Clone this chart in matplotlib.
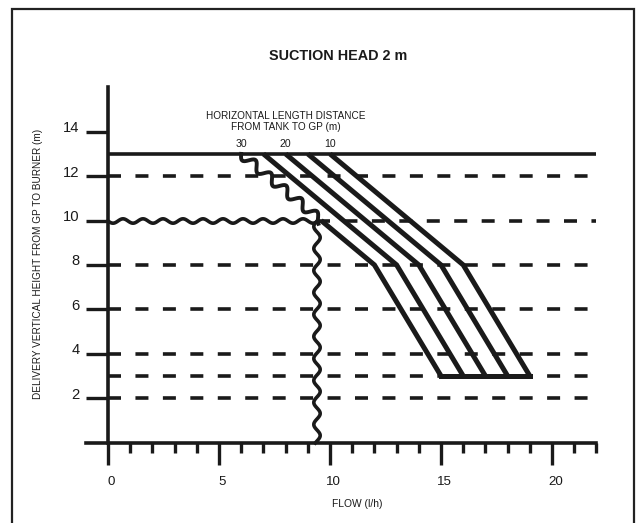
import numpy as np
import matplotlib
matplotlib.use("Agg")
import matplotlib.pyplot as plt
from matplotlib.patches import Rectangle
from matplotlib.transforms import ScaledTranslation
from matplotlib.ticker import FixedLocator

# ---------------- data ----------------
lengths = [10, 15, 20, 25, 30]            # horizontal length tank -> GP (m)
labelled_lengths = [30, 20, 10]
flow_at_top = [10, 9, 8, 7, 6]            # flow (l/h) at height 13 m
flow_at_knee = [16, 15, 14, 13, 12]       # flow (l/h) at height 8 m
flow_at_bottom = [19, 18, 17, 16, 15]     # flow (l/h) at height 3 m
height_top = 13
height_knee = 8
height_bottom = 3
limit_height = 10                          # wavy limit (horizontal)
limit_flow = 9.4                           # wavy limit (vertical)
dashed_heights = [12, 8, 6, 4, 3, 2]
x_major = [0, 5, 10, 15, 20]
x_minor = [1, 2, 3, 4, 6, 7, 8, 9, 11, 12, 13, 14, 16, 17, 18, 19, 21, 22]
y_ticks = [2, 4, 6, 8, 10, 12, 14]
x_axis_left, x_max = -1, 22
y_axis_top = 16

title = "SUCTION HEAD 2 m"
xlabel = "FLOW (l/h)"
ylabel = "DELIVERY VERTICAL HEIGHT FROM GP TO BURNER (m)"
legend_title = "HORIZONTAL LENGTH DISTANCE\nFROM TANK TO GP (m)"

# ---------------- style / layout ----------------
INK = "#1a1a1a"
FONT = ["Liberation Sans", "DejaVu Sans"]
W, H, DPI = 641, 523, 100
PX = 22.2                 # pixels per data unit
X0, Y0 = 108, 442.5       # pixel position of data origin (from top-left)
xlim = (-1.5, 23.5)
ylim = (-1.2, 17.0)

fig = plt.figure(figsize=(W / DPI, H / DPI), dpi=DPI)
left = X0 + xlim[0] * PX
right = X0 + xlim[1] * PX
top = Y0 - ylim[1] * PX
bottom = Y0 - ylim[0] * PX
ax = fig.add_axes([left / W, 1 - bottom / H, (right - left) / W, (bottom - top) / H])
ax.set_xlim(*xlim)
ax.set_ylim(*ylim)
ax.patch.set_visible(False)

# spines as axes lines
for s in ("top", "right"):
    ax.spines[s].set_visible(False)
ax.spines["left"].set_position(("data", 0))
ax.spines["bottom"].set_position(("data", 0))
ax.spines["left"].set_bounds(0, y_axis_top)
ax.spines["bottom"].set_bounds(x_axis_left, x_max)
for s in ("left", "bottom"):
    ax.spines[s].set_linewidth(2.6)
    ax.spines[s].set_color(INK)

ax.xaxis.set_major_locator(FixedLocator(x_major))
ax.xaxis.set_minor_locator(FixedLocator(x_minor))
ax.yaxis.set_major_locator(FixedLocator(y_ticks))
ax.set_xticklabels([str(v) for v in x_major])
ax.set_yticklabels([str(v) for v in y_ticks])
ax.tick_params(axis="x", which="major", direction="out", length=15.8, width=2.4,
               color=INK, pad=8.5, labelsize=9.6, labelcolor=INK)
ax.tick_params(axis="x", which="minor", direction="out", length=7.2, width=2.4, color=INK)
ax.tick_params(axis="y", which="major", direction="out", length=15.8, width=2.4,
               color=INK, pad=4.6, labelsize=10.6, labelcolor=INK)
for lab in ax.get_xticklabels():
    lab.set_family(FONT)
    lab.set_transform(lab.get_transform() + ScaledTranslation(3.5 / DPI, 0, fig.dpi_scale_trans))
for lab in ax.get_yticklabels():
    lab.set_family(FONT)
    lab.set_transform(lab.get_transform() + ScaledTranslation(0, 5 / DPI, fig.dpi_scale_trans))

# reference lines
ax.plot([0, x_max], [height_top, height_top], color=INK, lw=2.6, zorder=2,
        solid_capstyle="butt")
for h in dashed_heights:
    ax.plot([0, x_max], [h, h], color=INK, lw=2.6, zorder=1,
            dashes=(3.6, 4.0), dash_capstyle="butt")
ax.plot([limit_flow, x_max], [limit_height, limit_height], color=INK, lw=2.6, zorder=1,
        dashes=(3.6, 4.0), dash_capstyle="butt")

# wavy limit lines
wh, = ax.plot([0, limit_flow], [limit_height, limit_height], color=INK, lw=2.6, zorder=3)
wh.set_sketch_params(2.2, 20, 1)
wv, = ax.plot([limit_flow, limit_flow], [limit_height, 0], color=INK, lw=2.6, zorder=3)
wv.set_sketch_params(3.2, 22, 1)

# curves
for L, xt, xk, xb in zip(lengths, flow_at_top, flow_at_knee, flow_at_bottom):
    if L == max(lengths):
        x_lim = np.interp(limit_height, [height_knee, height_top], [xk, xt])
        wd, = ax.plot([xt, x_lim], [height_top, limit_height], color=INK, lw=2.8, zorder=3)
        wd.set_sketch_params(4.5, 20, 1)
        xs, ys = [x_lim, xk, xb], [limit_height, height_knee, height_bottom]
    else:
        xs, ys = [xt, xk, xb], [height_top, height_knee, height_bottom]
    ax.plot(xs, ys, color=INK, lw=3.6, zorder=4, solid_joinstyle="miter",
            solid_capstyle="butt")
ax.plot([min(flow_at_bottom), max(flow_at_bottom)], [height_bottom, height_bottom],
        color=INK, lw=3.6, zorder=4, solid_capstyle="projecting")

# curve labels
for L in labelled_lengths:
    xt = flow_at_top[lengths.index(L)]
    ax.text(xt, height_top + 0.45, str(L), ha="center", va="center", fontsize=7.6,
            family=FONT, color=INK)
ax.text(flow_at_top[lengths.index(20)], height_top + 1.45, legend_title, ha="center",
        va="center", fontsize=7.2, family=FONT, color=INK, linespacing=1.1)

# titles
fig.text(338.5 / W, 1 - 56 / H, title, ha="center", va="center", fontsize=10.4,
         fontweight="bold", family=FONT, color=INK)
fig.text(357 / W, 1 - 504 / H, xlabel, ha="center", va="center", fontsize=7.4,
         family=FONT, color=INK)
fig.text(38 / W, 1 - 264 / H, ylabel, ha="center", va="center", fontsize=7.2,
         family=FONT, rotation=90, color=INK)

# outer frame
fig.patches.append(Rectangle((12 / W, -0.05), (634 - 12) / W, (1 - 9 / H) + 0.05,
                             transform=fig.transFigure, fill=False, lw=1.6,
                             ec="#222222"))

fig.savefig("out.png", dpi=DPI, facecolor="white")
